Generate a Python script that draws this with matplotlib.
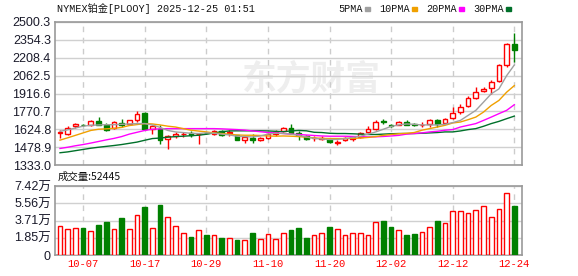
"""NYMEX platinum daily candles with moving averages and volume."""

import matplotlib
matplotlib.use("Agg")
import matplotlib.pyplot as plt
import numpy as np

# ---- data ----
opens = [1591, 1587, 1649, 1662, 1657, 1689, 1663, 1633, 1679, 1671,
         1697, 1757, 1627, 1627, 1549, 1568, 1582, 1595, 1582, 1597,
         1590, 1608, 1595, 1574, 1538, 1557, 1541, 1554, 1584, 1611,
         1638, 1598, 1568, 1552, 1549, 1549, 1514, 1533, 1543, 1562,
         1603, 1630, 1692, 1663, 1663, 1684, 1665, 1657, 1665, 1703,
         1676, 1719, 1765, 1813, 1878, 1935, 1959, 2019, 2149, 2319]
highs = [1622, 1649, 1676, 1670, 1703, 1724, 1679, 1692, 1711, 1703,
         1770, 1762, 1657, 1659, 1580, 1600, 1605, 1611, 1595, 1605,
         1620, 1615, 1617, 1576, 1562, 1584, 1562, 1595, 1622, 1643,
         1665, 1611, 1575, 1568, 1568, 1557, 1536, 1565, 1570, 1603,
         1652, 1697, 1710, 1671, 1692, 1697, 1676, 1680, 1711, 1711,
         1717, 1805, 1833, 1894, 1967, 1967, 2027, 2160, 2332, 2408]
lows = [1557, 1578, 1633, 1649, 1649, 1657, 1611, 1625, 1643, 1665,
        1681, 1617, 1582, 1506, 1463, 1551, 1560, 1563, 1501, 1585,
        1580, 1570, 1570, 1536, 1516, 1509, 1530, 1546, 1573, 1600,
        1590, 1540, 1541, 1530, 1536, 1514, 1495, 1525, 1530, 1557,
        1595, 1622, 1670, 1641, 1657, 1657, 1649, 1641, 1641, 1641,
        1670, 1711, 1752, 1803, 1873, 1927, 1914, 2013, 2129, 2175]
closes = [1603, 1638, 1665, 1656, 1689, 1663, 1622, 1681, 1659, 1697,
          1752, 1627, 1649, 1541, 1568, 1584, 1590, 1574, 1590, 1593,
          1611, 1576, 1600, 1541, 1560, 1541, 1554, 1590, 1603, 1635,
          1595, 1574, 1549, 1557, 1557, 1522, 1522, 1557, 1560, 1595,
          1630, 1684, 1688, 1649, 1684, 1663, 1657, 1661, 1703, 1671,
          1711, 1760, 1808, 1878, 1932, 1954, 2013, 2149, 2319, 2270]

ma5 = [1608, 1620, 1635, 1650, 1657, 1660, 1662, 1662, 1665, 1668,
       1671, 1671, 1660, 1640, 1615, 1603, 1598, 1592, 1590, 1595,
       1592, 1585, 1578, 1568, 1565, 1562, 1570, 1585, 1592, 1590,
       1585, 1575, 1562, 1550, 1545, 1541, 1542, 1548, 1558, 1568,
       1585, 1603, 1625, 1648, 1660, 1668, 1665, 1660, 1660, 1660,
       1665, 1679, 1697, 1738, 1779, 1846, 1914, 1954, 2062, 2149]
ma10 = [1536, 1555, 1575, 1595, 1615, 1625, 1628, 1632, 1640, 1655,
        1663, 1671, 1668, 1660, 1650, 1643, 1630, 1617, 1610, 1603,
        1595, 1590, 1584, 1578, 1576, 1576, 1574, 1570, 1568, 1570,
        1568, 1565, 1560, 1555, 1550, 1549, 1549, 1549, 1550, 1553,
        1558, 1565, 1575, 1582, 1588, 1592, 1598, 1617, 1630, 1643,
        1657, 1676, 1684, 1703, 1724, 1765, 1819, 1860, 1927, 1981]
ma20 = [1468, 1478, 1490, 1500, 1512, 1525, 1538, 1550, 1565, 1585,
        1600, 1615, 1625, 1628, 1630, 1630, 1630, 1630, 1630, 1630,
        1630, 1628, 1625, 1622, 1618, 1611, 1605, 1598, 1595, 1590,
        1585, 1582, 1578, 1574, 1570, 1568, 1568, 1568, 1566, 1565,
        1562, 1563, 1566, 1570, 1575, 1585, 1590, 1595, 1603, 1608,
        1617, 1622, 1643, 1657, 1671, 1697, 1724, 1752, 1779, 1825]
ma30 = [1433, 1440, 1450, 1460, 1470, 1478, 1485, 1492, 1500, 1510,
        1520, 1535, 1549, 1553, 1560, 1565, 1568, 1572, 1576, 1584,
        1595, 1605, 1611, 1612, 1612, 1612, 1612, 1611, 1608, 1605,
        1611, 1615, 1612, 1600, 1598, 1592, 1590, 1590, 1588, 1585,
        1582, 1582, 1585, 1588, 1590, 1590, 1590, 1592, 1595, 1598,
        1603, 1603, 1611, 1622, 1630, 1649, 1671, 1689, 1711, 1732]

# volume in units of 10k (万)
volume = [3.11, 2.79, 2.90, 2.90, 2.57, 3.25, 3.57, 2.79, 4.00, 2.79,
          4.33, 5.18, 2.90, 5.40, 4.08, 3.11, 2.36, 1.97, 2.68, 2.18,
          2.14, 1.86, 1.82, 1.64, 1.61, 2.40, 1.72, 2.25, 1.72, 2.36,
          2.72, 2.93, 1.88, 2.20, 2.41, 3.04, 2.79, 2.20, 2.41, 2.41,
          2.20, 3.53, 3.66, 3.04, 2.69, 2.20, 2.30, 2.48, 3.04, 3.66,
          3.46, 4.78, 4.78, 4.47, 4.89, 5.24, 4.05, 4.99, 6.67, 5.2445]

date_pos = [3, 11, 19, 27, 35, 43, 51, 59]
date_labels = ["10-07", "10-17", "10-29", "11-10", "11-20", "12-02", "12-12", "12-24"]

price_ticks = [1333.0, 1478.9, 1624.8, 1770.7, 1916.6, 2062.5, 2208.4, 2354.3, 2500.3]
vol_ticks = [0, 1.85, 3.71, 5.56, 7.42]
vol_tick_labels = ["0", "1.85万", "3.71万", "5.56万", "7.42万"]

ma_names = ["5PMA", "10PMA", "20PMA", "30PMA"]
ma_colors = ["#a0a0a0", "#f0a000", "#ff00ff", "#00702a"]

UP = "#ff0000"
DOWN = "#008000"
FRAME = "#999999"
GRID = "#d0d0d0"
LABEL_FONT = ["Liberation Sans", "Noto Sans CJK SC"]
MONO_FONT = ["Liberation Mono", "Noto Sans CJK SC"]

# ---- figure ----
fig = plt.figure(figsize=(5.78, 2.76), dpi=100)
ax = fig.add_axes([55 / 578, 1 - 165 / 276, 467 / 578, 143 / 276])
axv = fig.add_axes([55 / 578, 1 - 255 / 276, 467 / 578, 69 / 276])

x = np.arange(len(closes))
o = np.array(opens, dtype=float)
c = np.array(closes, dtype=float)
up = c >= o
xlim = (-0.65, 60.0)
width = 0.62


def style(a):
    for s in a.spines.values():
        s.set_color(FRAME)
        s.set_linewidth(1.2)
    a.tick_params(length=0, pad=3)
    a.set_xlim(*xlim)
    a.yaxis.grid(True, color=GRID, linewidth=1, zorder=0)
    for p in date_pos:
        a.axvline(p, color="#cccccc", linestyle=(0, (4, 4)), linewidth=1, zorder=0)
    a.set_axisbelow(True)


# watermark
ax.text(0.55, 0.6, "东方财富", transform=ax.transAxes, ha="center", va="center",
        fontsize=25, fontweight="bold", color="#eeeeee", family="Noto Sans CJK SC", zorder=0)

# candles
bottoms = np.minimum(o, c)
heights = np.maximum(np.abs(c - o), 2.5)
ax.vlines(x, lows, highs, colors=np.where(up, UP, DOWN), linewidth=1, zorder=2)
ax.bar(x[up], heights[up], bottom=bottoms[up], width=width,
       facecolor="white", edgecolor=UP, linewidth=1, zorder=3)
ax.bar(x[~up], heights[~up], bottom=bottoms[~up], width=width,
       facecolor=DOWN, edgecolor=DOWN, linewidth=1, zorder=3)

for vals, col in zip([ma30, ma20, ma10, ma5], ma_colors[::-1]):
    ax.plot(x, vals, color=col, linewidth=1, zorder=4)

style(ax)
ax.set_ylim(price_ticks[0], price_ticks[-1])
ax.set_yticks(price_ticks)
ax.set_yticklabels([f"{t:.1f}" for t in price_ticks], family=LABEL_FONT,
                   fontsize=9, color="#1a1a2a")
ax.set_xticks([])

# volume
vol = np.array(volume)
axv.bar(x[up], vol[up], width=width, facecolor="white", edgecolor=UP, linewidth=1, zorder=3)
axv.bar(x[~up], vol[~up], width=width, facecolor=DOWN, edgecolor=DOWN, linewidth=1, zorder=3)
style(axv)
axv.set_ylim(0, vol_ticks[-1])
axv.set_yticks(vol_ticks)
axv.set_yticklabels(vol_tick_labels, family=LABEL_FONT, fontsize=9, color="#1a1a2a")
axv.set_xticks(date_pos)
axv.set_xticklabels(date_labels, family=MONO_FONT, fontsize=7.6, color=UP)

# header texts
fig.text(57 / 578, 1 - 9 / 276, "NYMEX铂金[PLOOY] 2025-12-25 01:51", family=MONO_FONT,
         fontsize=7.3, va="center", ha="left", color="#111111")
fig.text(58 / 578, 1 - 177 / 276, f"成交量:{int(round(volume[-1] * 10000))}",
         family=["Noto Sans CJK SC", "DejaVu Sans"], fontsize=7.5, va="center", ha="left",
         color="#111111")

# legend
lx = 338
for name, col in zip(ma_names, ma_colors):
    fig.text(lx / 578, 1 - 9 / 276, name, family=MONO_FONT, fontsize=7.3,
             va="center", ha="left", color="#111111")
    w = len(name) * 5.9
    fig.patches.append(plt.Rectangle(((lx + w + 3) / 578, 1 - 11 / 276), 5 / 578, 4 / 276,
                                     transform=fig.transFigure, color=col, figure=fig))
    lx += w + 17.5

fig.savefig("out.png", dpi=100)
